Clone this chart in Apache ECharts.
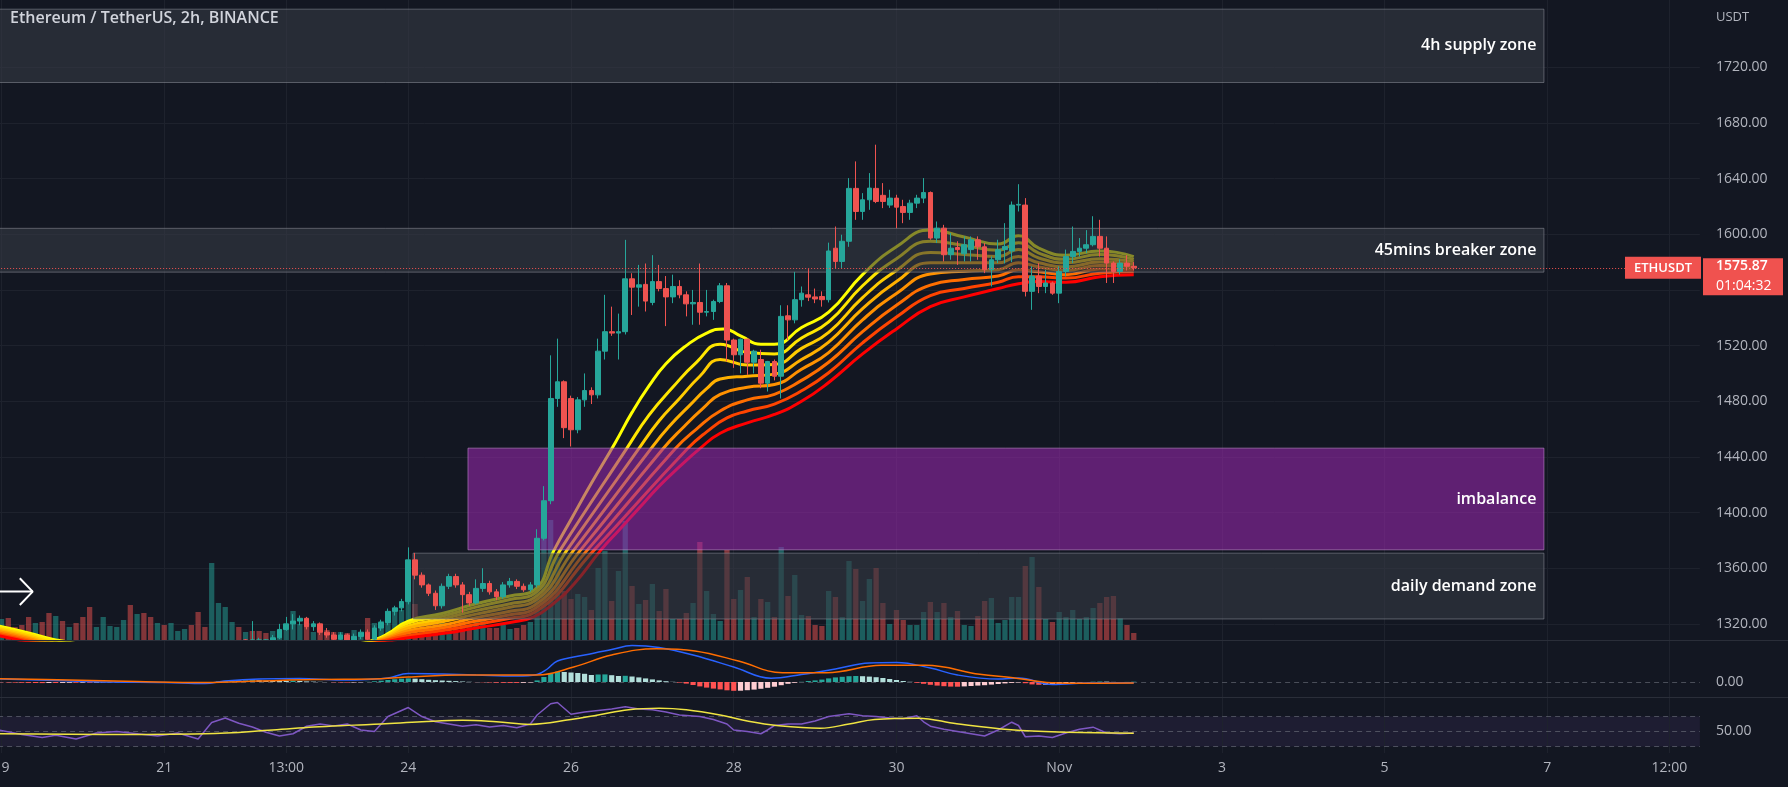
<!DOCTYPE html>
<html><head><meta charset="utf-8">
<script src="https://cdn.jsdelivr.net/npm/echarts@6/dist/echarts.min.js"></script>
<style>html,body{margin:0;padding:0;background:#131722;}#c{width:1788px;height:787px;}</style>
</head><body><div id="c"></div>
<script>
// ---------------- DATA ----------------
const symbolTitle = 'Ethereum / TetherUS, 2h, BINANCE';
const quoteUnit = 'USDT';
const lastPrice = 1575.87;
const countdown = '01:04:32';
const tickerName = 'ETHUSDT';
// 2h candles from Oct 19 00:00, [open, high, low, close]
const candles = [
[1300,1304,1297,1303],[1303,1305,1298,1299],[1299,1301,1296,1297],[1297,1299,1293,1294],[1294,1296,1288,1290],
[1290,1295,1289,1293],[1293,1294,1289,1291],[1291,1292,1284,1286],[1286,1292,1285,1290],[1290,1291,1285,1287],
[1287,1290,1286,1289],[1289,1290,1284,1285],[1285,1287,1281,1283],[1283,1284,1276,1278],[1278,1282,1277,1281],
[1281,1287,1280,1285],[1285,1288,1284,1287],[1287,1289,1285,1288],[1288,1293,1287,1291],[1291,1292,1283,1285],
[1285,1291,1284,1289],[1289,1290,1282,1283],[1283,1285,1278,1280],[1280,1284,1279,1283],[1283,1284,1279,1281],
[1281,1285,1280,1284],[1284,1286,1283,1285],[1285,1287,1284,1286],[1286,1287,1281,1282],[1282,1283,1272,1275],
[1275,1278,1270,1273],[1273,1300,1272,1296],[1296,1304,1293,1301],[1301,1306,1298,1304],[1304,1306,1301,1305],
[1305,1306,1300,1302],[1302,1309,1300,1307],[1307,1322,1303,1305],[1305,1310,1301,1303],[1303,1309,1299,1301],
[1301,1312,1300,1310],[1310,1320,1309,1316],[1316,1325,1315,1320],[1320,1327,1316,1322],[1322,1326,1319,1324],
[1324,1325,1316,1318],[1318,1322,1315,1320],[1320,1321,1312,1314],[1314,1317,1310,1312],[1312,1314,1307,1309],
[1309,1314,1307,1312],[1312,1313,1306,1308],[1308,1313,1306,1311],[1311,1316,1309,1314],[1314,1316,1306,1309],
[1309,1319,1308,1317],[1317,1323,1315,1321],[1321,1331,1319,1329],[1329,1333,1326,1331.5],[1331.5,1338,1329,1336],
[1336,1375,1334,1366],[1366,1371,1352,1355],[1355,1357,1346,1348],[1348,1349,1340,1342],[1342,1344,1330,1333],
[1333,1349,1331,1347],[1347,1356,1345,1354],[1354,1356,1346,1348],[1348,1350,1328,1341],[1341,1343,1333,1335],
[1335,1352,1334,1345.5],[1345.5,1360,1343,1349],[1349,1351,1341,1343],[1343,1345,1337,1339.5],[1339.5,1350,1338,1348],
[1348,1353,1346,1350.5],[1350.5,1352,1345,1347],[1347,1349,1343,1344.5],[1344.5,1350,1343,1348],[1348,1388,1346,1381.5],
[1381.5,1419,1380,1408.5],[1408.5,1513,1406,1482],[1482,1525,1476,1494],[1494,1495,1453.5,1461],[1482,1484,1447.5,1459.5],
[1459.5,1483,1457,1481],[1481,1500,1476,1487.7],[1487.7,1490,1478,1484.6],[1484.6,1525,1482,1516],[1516,1556.5,1510,1530],
[1530,1548,1527,1529],[1529,1543,1510,1530],[1530,1596,1528,1568],[1568,1572,1542,1562],[1562,1578,1548,1563.7],
[1564,1579,1544.5,1552],[1551,1585,1549,1566],[1566,1578,1559,1561],[1561,1570,1534,1555],[1555,1571,1550.5,1562.5],
[1562.5,1567,1554,1556.5],[1556.5,1559,1541,1550],[1550,1560,1535,1551],[1551,1579,1535,1544],[1544,1560,1541,1544.5],
[1544.5,1553,1538.5,1551.7],[1551.7,1565,1550.5,1563],[1563,1565,1508.6,1524],[1524,1525,1504,1513.4],[1513.4,1525,1500,1524.6],
[1524.6,1525,1499,1508],[1508,1517,1500,1516],[1510,1517,1489.4,1493],[1493,1509,1487,1508.6],[1508.6,1510,1495,1498],
[1498,1549,1482,1541],[1541.4,1549,1524,1538.5],[1538.5,1573,1536,1553],[1553,1562.5,1548,1557.7],[1556.5,1575,1552,1554.8],
[1555,1561,1550.5,1553.5],[1555.3,1559,1548,1553],[1553,1594,1551,1588],[1590,1605.6,1575.7,1580.5],[1580.5,1599.7,1575.7,1595],
[1595,1640.4,1591,1633],[1633,1652.4,1610.4,1616.4],[1616.4,1629.6,1610.4,1624.8],[1624.8,1644,1617.6,1633.2],[1633,1664.4,1622.4,1623.6],
[1628,1636.8,1618.8,1623.6],[1621,1632,1619,1626],[1626,1628.4,1604.4,1619.5],[1620,1624.8,1608,1615.7],[1615.7,1624.8,1610.4,1622.4],
[1622.4,1628.4,1618.8,1626],[1626,1640.4,1622.4,1630],[1630,1630.8,1596.1,1597.3],[1597.3,1609.2,1593.7,1604.4],[1604.4,1606.8,1580.5,1585.3],
[1585.3,1600.9,1581.7,1590],[1590.5,1595,1578,1589],[1586,1598.5,1580.5,1592.5],[1589,1598.5,1580.5,1596.1],[1596,1598.5,1581.7,1591],
[1591,1593.7,1572.1,1574.5],[1574.5,1584.1,1562.5,1581.7],[1581.7,1596.1,1579.3,1588.9],[1589,1608,1579,1591.3],[1588,1623.6,1580,1621],
[1621,1636,1616.4,1621.5],[1621,1626,1555.3,1559],[1559,1577,1545.7,1570],[1570,1579.3,1557.7,1562.5],[1562.5,1574.5,1557.7,1565],
[1565,1566,1556.5,1557.7],[1557.7,1577,1550.5,1573.3],[1573.3,1589,1569.7,1584.1],[1584,1605.6,1579.3,1587.7],[1587.7,1597.3,1584,1590],
[1590,1603,1586.5,1592.5],[1592.5,1613,1591.3,1598.5],[1598.5,1610.4,1584,1590],[1590,1598.5,1565,1579.3],[1579.3,1580.5,1565,1573.3],
[1573.3,1582,1571,1579.3],[1579.3,1585,1574,1577],[1577,1580,1574,1575.87]
];
// volume (thousand ETH)
const volume = [
21,22,13,15,23,17,18,27,24,19,13,17,23,33,13,23,14,13,20,35,26,27,23,17,15,17,9,11,15,28,
13,77,37,33,18,13,8,9,9,7,9,10,12,29,16,17,8,10,10,8,8,7,10,7,22,17,19,29,30,30,
55,36,22,18,25,20,16,14,22,14,18,20,12,12,15,11,12,15,18,100,105,120,83,49,41,46,43,30,72,89,
39,69,119,54,36,40,56,29,51,21,21,27,37,98,49,26,19,90,41,50,63,23,41,38,23,93,44,65,25,24,
15,14,49,43,23,79,71,39,61,72,37,16,30,20,15,15,28,38,28,37,23,29,15,14,24,39,42,17,20,43,
43,74,83,53,21,18,28,23,30,21,23,32,37,43,44,22,15,7
];
// EMA ribbon, fastest (yellow) to slowest (red): [bar index, price]
const ribbon0 = [[-0.5,1318.5],[4,1313.5],[8,1308.5],[16,1302],[30,1294],[44,1300],[52,1305],[55,1308.5],[57,1313],[60,1322],[65,1327.5],[70,1334.5],[75,1340],[78.5,1344],[81.5,1373],[84,1395],[87,1421],[90.5,1450],[93,1472],[95.5,1491],[98,1507],[101,1520],[104,1529],[106.5,1532],[109,1527],[112,1521],[114,1521],[118,1533],[122,1544],[127,1571],[132,1591],[137,1603],[142,1598],[147,1593],[150,1599],[153,1590],[157,1585],[162,1588],[167,1584]];
const ribbon1 = [[-0.5,1317.5],[4,1312.5],[8,1307.3],[16,1301.4],[30,1294.3],[44,1299.5],[52,1304.4],[55,1308.1],[57,1312],[60,1320.5],[65,1325.5],[70,1332],[75,1337.5],[78.5,1341.5],[82.4,1373],[92.2,1446],[95.5,1470],[99,1490],[102.5,1508],[106,1521],[110,1515],[114,1514],[118,1525.5],[122,1537],[127,1563],[132,1582.5],[137,1595],[142,1592],[147,1588.5],[150,1594],[153,1586.5],[157,1582],[162,1585.5],[167,1582]];
const ribbon2 = [[-0.5,1316.5],[4,1311.5],[8,1306.1],[16,1300.8],[30,1294.6],[44,1299],[52,1303.8],[55,1307.7],[57,1311.5],[60,1318.5],[65,1323.5],[70,1329.5],[75,1334.5],[78.5,1338.5],[83.4,1373],[94,1446],[97,1466],[100,1482],[103,1498],[106,1510],[110,1506],[114,1506.5],[118,1518],[122,1529.5],[127,1554.5],[132,1574],[137,1587],[142,1585.5],[147,1584],[150,1589],[153,1583],[157,1579.5],[162,1582.5],[167,1580.5]];
const ribbon3 = [[-0.5,1315.5],[4,1310.5],[8,1304.9],[16,1300.2],[30,1294.9],[44,1298.5],[52,1303.2],[55,1307.3],[57,1310.5],[60,1317],[65,1321.5],[70,1327],[75,1332],[78.5,1336],[84.4,1373],[95.8,1446],[98.5,1462],[101.5,1477],[104,1489],[106,1496],[110,1498],[114,1499.5],[118,1510],[122,1522.5],[127,1546.5],[132,1566],[137,1579.5],[142,1579.5],[147,1579.5],[150,1584],[153,1579.5],[157,1576.5],[162,1580],[167,1578.5]];
const ribbon4 = [[-0.5,1314.5],[4,1309.5],[8,1303.7],[16,1299.6],[30,1295.2],[44,1298],[52,1302.6],[55,1306.9],[57,1310],[60,1315],[65,1319],[70,1324.5],[75,1329],[78.5,1333],[85.4,1373],[97.6,1446],[100.5,1461],[103.5,1475],[106,1485],[110,1490],[114,1492],[118,1503],[122,1515],[127,1538.5],[132,1557.5],[137,1571.5],[142,1573.5],[147,1574.5],[150,1579.5],[153,1576.5],[157,1574],[162,1577.5],[167,1576.5]];
const ribbon5 = [[-0.5,1313.5],[4,1308.5],[8,1302.5],[16,1299],[30,1295.5],[44,1297.5],[52,1302],[55,1306.5],[57,1309],[60,1313.5],[65,1317],[70,1322],[75,1326.5],[78.5,1330.5],[86.4,1373],[99.4,1446],[102.5,1460],[106,1473],[110,1481],[114,1485],[118,1495],[122,1508],[127,1530],[132,1549],[137,1563.5],[142,1567.5],[147,1570],[150,1574.5],[153,1573],[157,1571],[162,1575],[167,1574.5]];
const ribbon6 = [[-0.5,1312.5],[4,1307.5],[8,1301.3],[16,1298.4],[30,1295.8],[44,1297],[52,1301.4],[55,1306.1],[57,1308.5],[60,1311.5],[65,1315],[70,1319.5],[75,1324],[78.5,1328],[87.4,1373],[101.2,1446],[104,1458],[107,1468],[110,1473],[114,1478],[118,1487.5],[122,1500.5],[127,1522],[132,1540.5],[137,1556],[142,1561],[147,1565.5],[150,1569.5],[153,1569.5],[157,1568.5],[162,1572],[167,1573]];
const ribbon7 = [[-0.5,1311.5],[4,1306.5],[8,1300.1],[16,1297.8],[30,1296.1],[44,1296.5],[52,1300.8],[55,1305.7],[57,1307.5],[60,1310],[65,1313],[70,1317],[75,1321],[78.5,1325],[81.5,1335],[84.5,1349],[88.4,1373],[91,1387],[94,1403],[97,1419],[100,1433],[103,1446],[106,1457],[110,1464.5],[114,1470.5],[118,1480],[122,1493.5],[127,1514],[132,1532],[137,1548],[142,1555],[147,1561],[150,1564.5],[153,1566],[157,1565.5],[162,1569.5],[167,1571]];
// MACD
const macdLine = [[-0.5,3],[8,1.5],[16,0],[24,-0.5],[30,-1.5],[33,1],[38,3],[44,3.5],[50,2],[54,2.5],[57,4],[60,8.5],[65,8],[70,7],[76,6],[79,7.5],[80.5,13],[82,21],[86,27],[90,32.5],[93,36.5],[97,34.5],[102,27],[108,15],[113.5,3.7],[118,7.5],[123,13],[128,19],[132,19.5],[137,14],[141,7],[147,3],[150,4],[155,-2.5],[160,-1],[167,-0.7]];
const signalLine = [[-0.5,3.3],[10,2],[20,0.5],[30,-0.5],[38,1],[46,2.5],[56,3.3],[60,5],[68,7],[79,7],[84.4,15],[90,27],[96.6,33.3],[102.3,31],[108.7,21],[115.2,9.3],[121.7,9.3],[129.8,16.7],[136.3,16.7],[144.3,7.7],[149.2,4.3],[154.9,-0.7],[160,-1.2],[167,-1]];
const macdHist = [
-0.3,-0.5,-0.6,-0.8,-0.9,-1,-1.1,-1,-1,-0.9,-0.8,-0.8,
-0.7,-0.8,-0.7,-0.5,-0.4,-0.3,-0.2,-0.3,-0.3,-0.4,-0.5,-0.4,
-0.4,-0.4,-0.5,-0.6,-0.8,-1,-1.2,-0.2,0.6,1.2,1.6,1.5,
1.6,1.9,1.7,1.4,1.2,1.1,1,1.2,1,0.6,0.4,0.2,
0,-0.3,-0.5,-0.6,-0.5,-0.3,0.2,0.7,1.3,2,2.8,3.3,
3.6,3.3,2.8,2.2,1.8,1.5,1.2,0.9,0.5,0.2,-0.1,-0.3,
-0.5,-0.7,-0.8,-0.9,-0.9,-0.8,-0.5,1.6,5,8.5,10.3,10,
9.5,9,8.2,7,7.5,7.6,6.8,6,6.2,5.5,4.6,3.6,
2.6,1.6,0.8,0.2,-0.6,-1.6,-3,-4.4,-5.6,-6.6,-7.4,-8.3,
-8.8,-8.7,-8.2,-7.6,-6.8,-5.8,-4.7,-3.2,-1.8,-0.8,0.2,1,
1.6,2.4,3.6,4.6,5.2,5.8,6,5.8,5.4,4.8,4,3,
2,1,0.2,-0.8,-1.8,-2.8,-3.6,-4.2,-4.6,-4.7,-4.4,-4,
-3.6,-3.2,-2.6,-2,-1.4,-0.9,-0.5,-1.2,-2.4,-2.8,-2.7,-2.3,
-1.9,-1.3,-0.8,-0.4,0,0.3,0.5,0.4,0.1,-0.1,0.1,0.3
];
// RSI and its moving average
const rsiLine = [[-0.5,52],[3,46],[6,42],[8,45],[11,40],[14,48],[17,50],[20,47],[23,44],[26,48],[29,40],[31,62],[33,68],[35,61],[37,56],[39,49],[41,44],[43,47],[45,57],[47,60],[49,57.5],[51,60],[53,52],[55,50],[57,70],[59,78],[60,82],[62,70],[64,63],[66,60],[68,57],[70,59],[72,56],[74,58],[76,55],[78,60],[79,72],[81,87],[82,88.7],[84,73],[86,76],[88,78],[90,80],[92,83],[94,80],[96,79],[98,76],[100,72],[103,70],[105,66],[107,60],[108,52],[110,50],[112,47],[113,52],[114,58],[116,60],[118,60],[120,64],[122,70],[125,73.6],[127,71],[129,70],[131,68],[133,67],[135,71],[136,63],[137,57],[139,53],[141,50],[143,47],[145,44],[147,52],[149,62.4],[150,58],[151,43],[153,44],[155,42],[157,48],[159,53],[161,55.8],[163,48],[165,47],[167,48]];
const rsiMA = [[-0.5,47],[15,46],[30,47],[40,52],[46,56],[52,58.5],[56,60],[62,63],[68,65],[73,63],[78,59.5],[84,66],[88,72],[92.5,79],[97,81],[101,79],[106,72],[110,64],[114.3,58],[120.8,54.4],[125,60],[128.8,66],[135.2,67.8],[140.9,60.2],[148.9,52.2],[157,49],[167,47.8]];
// drawn zones: [label, fromBar, toBar, topPrice, bottomPrice]
const zoneSupply4h = ['4h supply zone', -0.5, 227.5, 1761.8, 1709.1];
const zoneBreaker45m = ['45mins breaker zone', -0.5, 227.5, 1604.3, 1572.8];
const zoneImbalance = ['imbalance', 68.8, 227.5, 1446.3, 1373.2];
const zoneDemandDaily = ['daily demand zone', 60.7, 227.5, 1370.8, 1323.5];
// arrow drawing (bar index, price)
const arrowShaft = [[-0.5,1343.2],[4.6,1343.2]];
const arrowHead = [[2.7,1352.8],[4.6,1343.2],[2.7,1333.6]];
// axes
const priceMin = 1308.4, priceMax = 1768.4;
const priceGridValues = [1320,1360,1400,1440,1480,1520,1560,1600,1640,1680,1720];
const priceLabelValues = [1320,1360,1400,1440,1480,1520,1600,1640,1680,1720];
const xTickIdx = [0,24,42,60,84,108,132,156,180,204,228,246];
const xTickText = ['19','21','13:00','24','26','28','30','Nov','3','5','7','12:00'];
const totalSlots = 251;

// ---------------- CHART ----------------
const BG = '#131722', GRID = '#1e222d', TXT = '#b2b5be';
const UP = '#26a69a', DOWN = '#ef5350';
const BAR = 6.78, X0 = 1.5;
const gl = X0 - BAR / 2, gw = totalSlots * BAR;
const cats = [];
const t0 = Date.UTC(2022, 9, 19, 0, 0);
for (let i = 0; i < totalSlots; i++) { const d = new Date(t0 + i * 7200000); cats.push(d.toISOString().slice(5, 16)); }

const chart = echarts.init(document.getElementById('c'), null, {renderer: 'canvas', width: 1788, height: 787});
const vLines = xTickIdx.map(v => ({xAxis: v}));
const gridLineStyle = {color: GRID, width: 1, type: 'solid'};
const dashStyle = {color: 'rgba(120,123,134,0.55)', width: 1, type: [5, 4]};
function hidX(type, gi) {
  const a = {type: type, gridIndex: gi, show: false, position: 'bottom'};
  if (type === 'category') { a.data = cats; a.boundaryGap = true; }
  else { a.min = -0.5; a.max = totalSlots - 0.5; }
  return a;
}
const ribbonColors = ['#ffff00', '#ffe600', '#ffcc00', '#ffb000', '#ff9100', '#ff6e00', '#ff4400', '#ff0000'];
const ribbons = [ribbon0, ribbon1, ribbon2, ribbon3, ribbon4, ribbon5, ribbon6, ribbon7];
function zoneItem(z, style) {
  return [{name: z[0], xAxis: z[1], yAxis: z[3], itemStyle: style}, {xAxis: z[2], yAxis: z[4]}];
}
const greyZone = {color: 'rgba(54,58,69,0.6)', borderColor: 'rgba(150,153,164,0.5)', borderWidth: 1};
const purpleZone = {color: 'rgba(156,39,176,0.56)', borderColor: 'rgba(206,147,216,0.55)', borderWidth: 1};
const histColors = macdHist.map((h, i) => {
  const p = i > 0 ? macdHist[i - 1] : 0;
  if (h >= 0) return h >= p ? '#26a69a' : '#b2dfdb';
  return h <= p ? '#ff5252' : '#ffcdd2';
});
// candles are clipped to the price pane (the library only drops fully hidden candles)
const candleView = candles.map(c => c[1] < priceMin ? '-' :
  [Math.max(c[0], priceMin), Math.max(c[3], priceMin), Math.max(c[2], priceMin), c[1]]);

const option = {
  backgroundColor: BG,
  animation: false,
  textStyle: {fontFamily: 'Open Sans'},
  grid: [
    {left: gl, top: 0, width: gw, height: 640, containLabel: false, outerBoundsMode: 'none'},
    {left: gl, top: 641, width: gw, height: 56, containLabel: false, outerBoundsMode: 'none'},
    {left: gl, top: 698, width: gw, height: 55, containLabel: false, outerBoundsMode: 'none'}
  ],
  xAxis: [
    hidX('category', 0), hidX('value', 0),
    hidX('category', 1), hidX('value', 1),
    hidX('category', 2),
    {type: 'value', gridIndex: 2, position: 'bottom', min: -0.5, max: totalSlots - 0.5, show: true,
     axisLine: {show: false}, axisTick: {show: false}, splitLine: {show: false},
     axisLabel: {customValues: xTickIdx, formatter: v => xTickText[xTickIdx.indexOf(Math.round(v))] || '',
       color: TXT, fontSize: 14, margin: 8, fontFamily: 'Open Sans'}}
  ],
  yAxis: [
    {type: 'value', gridIndex: 0, position: 'right', min: priceMin, max: priceMax,
     axisLine: {show: false}, axisTick: {show: false}, splitLine: {show: false},
     axisLabel: {customValues: priceLabelValues, formatter: v => v.toFixed(2), color: TXT, fontSize: 14, margin: 16, fontFamily: 'Open Sans'}},
    {type: 'value', gridIndex: 0, position: 'right', min: 0, max: 640, show: false},
    {type: 'value', gridIndex: 1, position: 'right', min: -15, max: 41,
     axisLine: {show: false}, axisTick: {show: false}, splitLine: {show: false},
     axisLabel: {customValues: [0], formatter: v => v.toFixed(2), color: TXT, fontSize: 14, margin: 16, fontFamily: 'Open Sans'}},
    {type: 'value', gridIndex: 2, position: 'right', min: 21.3, max: 94.7,
     axisLine: {show: false}, axisTick: {show: false}, splitLine: {show: false},
     axisLabel: {customValues: [50], formatter: v => v.toFixed(2), color: TXT, fontSize: 14, margin: 16, fontFamily: 'Open Sans'}}
  ],
  series: [
    {type: 'line', xAxisIndex: 1, yAxisIndex: 0, data: [[-5, 1500]], showSymbol: false, silent: true, z: 0,
     markLine: {z: 0, silent: true, symbol: ['none', 'none'], label: {show: false}, lineStyle: gridLineStyle,
       data: vLines.concat(priceGridValues.map(v => ({yAxis: v})))}},
    {type: 'line', xAxisIndex: 3, yAxisIndex: 2, data: [[-5, 0]], showSymbol: false, silent: true, z: 0,
     markLine: {z: 0, silent: true, symbol: ['none', 'none'], label: {show: false}, lineStyle: gridLineStyle,
       data: vLines.concat([{yAxis: 0, lineStyle: dashStyle}])}},
    {type: 'line', xAxisIndex: 5, yAxisIndex: 3, data: [[-5, 50]], showSymbol: false, silent: true, z: 0,
     markArea: {z: 0, silent: true, itemStyle: {color: 'rgba(126,87,194,0.10)'}, data: [[{xAxis: -0.5, yAxis: 70}, {xAxis: totalSlots - 0.5, yAxis: 30}]]},
     markLine: {z: 0, silent: true, symbol: ['none', 'none'], label: {show: false}, lineStyle: gridLineStyle,
       data: vLines.concat([{yAxis: 70, lineStyle: dashStyle}, {yAxis: 50, lineStyle: dashStyle}, {yAxis: 30, lineStyle: dashStyle}])}},
    {type: 'bar', name: 'Volume', xAxisIndex: 0, yAxisIndex: 1, barWidth: '78%', z: 1, silent: true,
     data: volume.map((v, i) => ({value: v, itemStyle: {color: candles[i][3] >= candles[i][0] ? 'rgba(38,166,154,0.5)' : 'rgba(239,83,80,0.5)'}}))},
    ...ribbons.map((r, k) => ({type: 'line', xAxisIndex: 1, yAxisIndex: 0, data: r, showSymbol: false, smooth: 0.5,
      lineStyle: {color: ribbonColors[k], width: 3}, z: 2, silent: true})),
    {type: 'line', xAxisIndex: 1, yAxisIndex: 0, data: [[-5, 1500]], showSymbol: false, silent: true, z: 3,
     markArea: {z: 3, silent: true,
       label: {show: true, position: 'insideRight', distance: 8, color: '#ffffff', fontSize: 16, fontWeight: 600, fontFamily: 'Open Sans'},
       data: [zoneItem(zoneSupply4h, greyZone), zoneItem(zoneBreaker45m, greyZone), zoneItem(zoneImbalance, purpleZone), zoneItem(zoneDemandDaily, greyZone)]}},
    {type: 'candlestick', name: 'ETHUSDT', xAxisIndex: 0, yAxisIndex: 0, barWidth: '76%', z: 4, silent: true,
     data: candleView,
     itemStyle: {color: UP, color0: DOWN, borderColor: UP, borderColor0: DOWN, borderWidth: 1},
     markLine: {z: 5, silent: true, symbol: ['none', 'none'], label: {show: false},
       lineStyle: {color: '#ef5350', type: [1, 2], width: 1}, data: [{yAxis: lastPrice}]}},
    {type: 'line', xAxisIndex: 1, yAxisIndex: 0, data: arrowShaft, showSymbol: false, lineStyle: {color: '#ffffff', width: 2}, z: 5, silent: true},
    {type: 'line', xAxisIndex: 1, yAxisIndex: 0, data: arrowHead, showSymbol: false, lineStyle: {color: '#ffffff', width: 2}, z: 5, silent: true},
    {type: 'bar', xAxisIndex: 2, yAxisIndex: 2, barWidth: '76%', z: 2, silent: true,
     data: macdHist.map((h, i) => ({value: h, itemStyle: {color: histColors[i]}}))},
    {type: 'line', xAxisIndex: 3, yAxisIndex: 2, data: macdLine, showSymbol: false, smooth: 0.4, lineStyle: {color: '#2962ff', width: 1.5}, z: 3, silent: true},
    {type: 'line', xAxisIndex: 3, yAxisIndex: 2, data: signalLine, showSymbol: false, smooth: 0.4, lineStyle: {color: '#ff6d00', width: 1.5}, z: 3, silent: true},
    {type: 'line', xAxisIndex: 5, yAxisIndex: 3, data: rsiLine, showSymbol: false, lineStyle: {color: '#7e57c2', width: 1.5}, z: 3, silent: true},
    {type: 'line', xAxisIndex: 5, yAxisIndex: 3, data: rsiMA, showSymbol: false, smooth: 0.4, lineStyle: {color: '#f0e442', width: 1.5}, z: 3, silent: true}
  ]
};
chart.setOption(option);

const yPix = chart.convertToPixel({yAxisIndex: 0}, lastPrice);
const RED = '#f0524f';
chart.setOption({
  graphic: [
    {type: 'text', left: 10, top: 10, z: 100, style: {text: symbolTitle, fill: '#d1d4dc', font: '600 16px "Open Sans"'}},
    {type: 'text', x: 1716, y: 17, z: 100, style: {text: quoteUnit, fill: TXT, font: '13px "Open Sans"', verticalAlign: 'middle'}},
    {type: 'line', z: 100, shape: {x1: 0, y1: 640.5, x2: 1788, y2: 640.5}, style: {stroke: '#2a2e39', lineWidth: 1}},
    {type: 'line', z: 100, shape: {x1: 0, y1: 697.5, x2: 1788, y2: 697.5}, style: {stroke: '#2a2e39', lineWidth: 1}},
    {type: 'rect', z: 100, shape: {x: 1625, y: yPix - 11, width: 76, height: 22}, style: {fill: RED}},
    {type: 'text', z: 101, x: 1663, y: yPix, style: {text: tickerName, fill: '#ffffff', font: '600 13px "Open Sans"', align: 'center', verticalAlign: 'middle'}},
    {type: 'rect', z: 100, shape: {x: 1703, y: yPix - 9.5, width: 80, height: 37}, style: {fill: RED}},
    {type: 'text', z: 101, x: 1716, y: yPix - 1.5, style: {text: lastPrice.toFixed(2), fill: '#ffffff', font: '600 14px "Open Sans"', verticalAlign: 'middle'}},
    {type: 'text', z: 101, x: 1716, y: yPix + 18, style: {text: countdown, fill: '#ffffff', font: '14px "Open Sans"', verticalAlign: 'middle'}}
  ]
});
</script></body></html>
